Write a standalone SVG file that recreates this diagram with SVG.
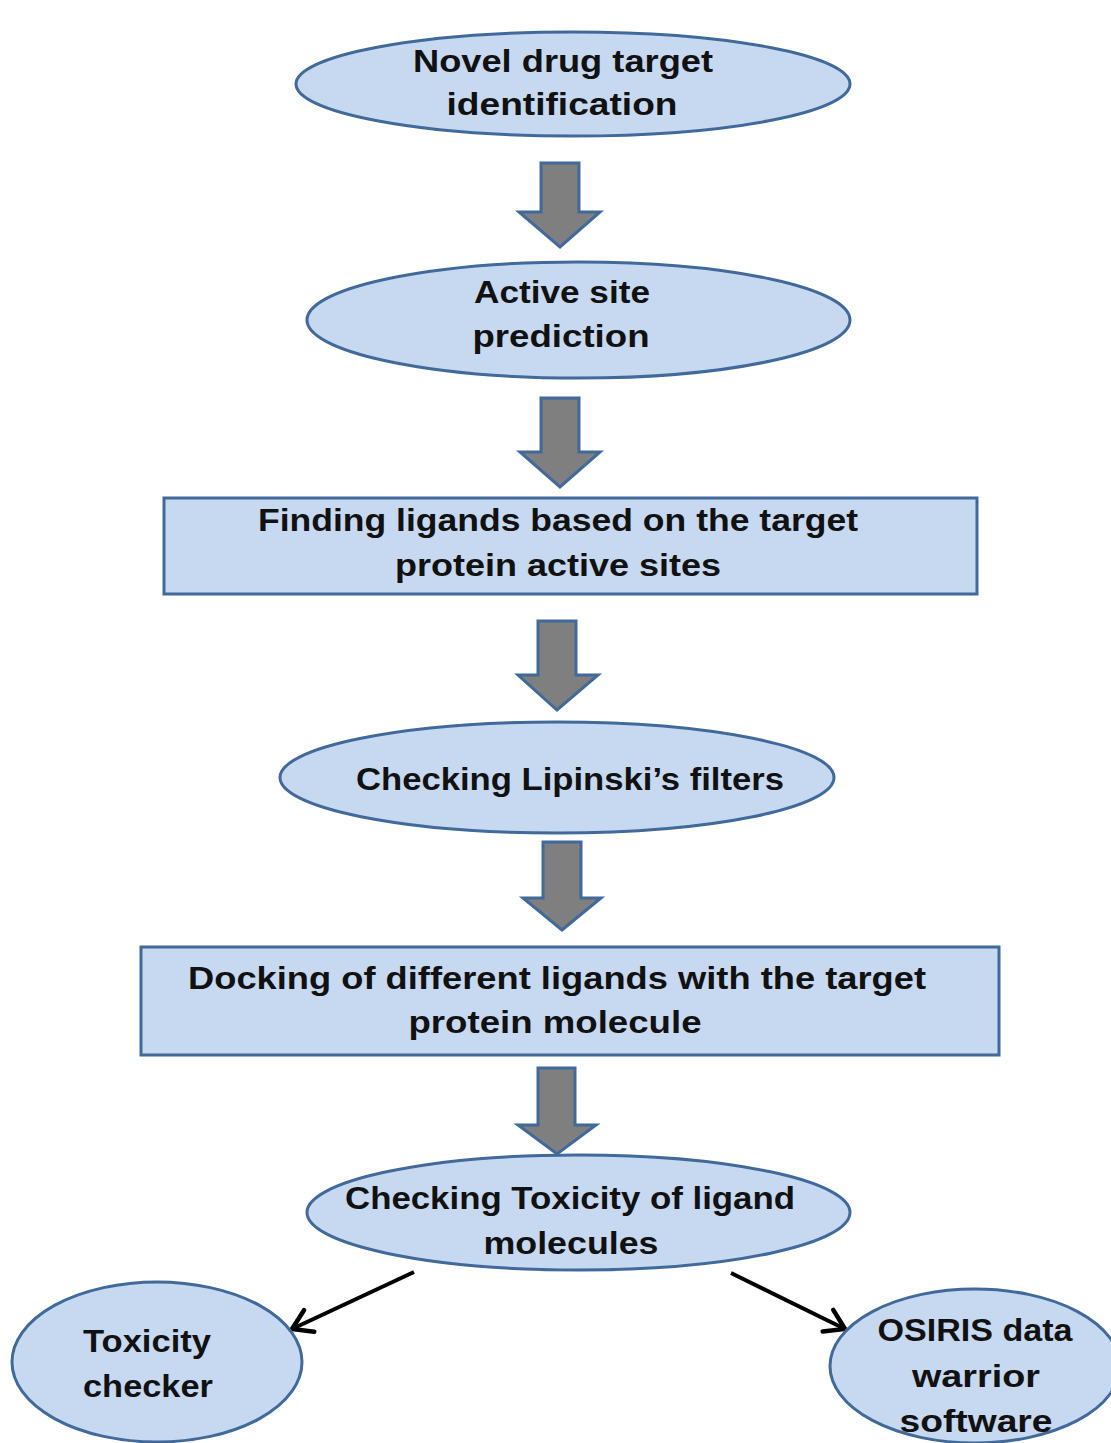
<svg xmlns="http://www.w3.org/2000/svg" width="1111" height="1443" viewBox="0 0 1111 1443">
<style>
.n{fill:#c6d9f1;stroke:#41699a;stroke-width:3}
.blk{fill:#7f7f7f;stroke:#41699a;stroke-width:3;stroke-linejoin:miter}
.t{font-family:"Liberation Sans",Arial,sans-serif;font-weight:bold;font-size:32px;fill:#111;text-anchor:middle}
.ln{stroke:#000;stroke-width:4;fill:none}
</style>
<defs>
<marker id="ah" viewBox="0 0 28 28" refX="25" refY="14" markerWidth="28" markerHeight="28" orient="auto" markerUnits="userSpaceOnUse" style="overflow:visible">
<path d="M6,2 L25,14 L6,26" fill="none" stroke="#000" stroke-width="4.5" stroke-linecap="round" stroke-linejoin="miter"/>
</marker>
</defs>
<rect width="1111" height="1443" fill="#fff"/>
<g id="connectors">
<polygon class="blk" points="541,163 579,163 579,212 600,212 560,247 519,212 541,212"/>
<polygon class="blk" points="541,398 579,398 579,452 600,452 560,487 520,452 541,452"/>
<polygon class="blk" points="538,621 576,621 576,675 598,675 557,710 518,675 538,675"/>
<polygon class="blk" points="543,842 581,842 581,898 601,898 562,930 523,898 543,898"/>
<polygon class="blk" points="538,1068 575,1068 575,1125 596,1125 557,1154 518,1125 538,1125"/>
<line class="ln" x1="414" y1="1272" x2="292" y2="1329" marker-end="url(#ah)"/>
<line class="ln" x1="731" y1="1273" x2="845" y2="1329" marker-end="url(#ah)"/>
</g>
<g id="node1">
<ellipse class="n" cx="573" cy="84" rx="277" ry="52"/>
<text class="t" x="563" y="72" textLength="300" lengthAdjust="spacingAndGlyphs">Novel drug target</text>
<text class="t" x="562" y="115" textLength="231" lengthAdjust="spacingAndGlyphs">identification</text>
</g>
<g id="node2">
<ellipse class="n" cx="578.5" cy="320" rx="271.5" ry="58"/>
<text class="t" x="562" y="303" textLength="176" lengthAdjust="spacingAndGlyphs">Active site</text>
<text class="t" x="561" y="347" textLength="177" lengthAdjust="spacingAndGlyphs">prediction</text>
</g>
<g id="node3">
<rect class="n" x="164" y="498" width="813" height="96"/>
<text class="t" x="558" y="531" textLength="600" lengthAdjust="spacingAndGlyphs">Finding ligands based on the target</text>
<text class="t" x="558" y="576" textLength="326" lengthAdjust="spacingAndGlyphs">protein active sites</text>
</g>
<g id="node4">
<ellipse class="n" cx="557" cy="777.5" rx="277" ry="55.5"/>
<text class="t" x="570" y="790" textLength="428" lengthAdjust="spacingAndGlyphs">Checking Lipinski’s filters</text>
</g>
<g id="node5">
<rect class="n" x="141" y="947" width="858" height="108"/>
<text class="t" x="557" y="989" textLength="738" lengthAdjust="spacingAndGlyphs">Docking of different ligands with the target</text>
<text class="t" x="555" y="1033" textLength="293" lengthAdjust="spacingAndGlyphs">protein molecule</text>
</g>
<g id="node6">
<ellipse class="n" cx="578.5" cy="1212.5" rx="271.5" ry="57.5"/>
<text class="t" x="570" y="1209" textLength="450" lengthAdjust="spacingAndGlyphs">Checking Toxicity of ligand</text>
<text class="t" x="571" y="1254" textLength="175" lengthAdjust="spacingAndGlyphs">molecules</text>
</g>
<g id="node7">
<ellipse class="n" cx="157" cy="1362" rx="145" ry="80"/>
<text class="t" x="147" y="1352" textLength="128" lengthAdjust="spacingAndGlyphs">Toxicity</text>
<text class="t" x="148" y="1397" textLength="130" lengthAdjust="spacingAndGlyphs">checker</text>
</g>
<g id="node8">
<ellipse class="n" cx="975" cy="1366" rx="145" ry="77"/>
<text class="t" x="975" y="1341" textLength="195" lengthAdjust="spacingAndGlyphs">OSIRIS data</text>
<text class="t" x="976" y="1387" textLength="128" lengthAdjust="spacingAndGlyphs">warrior</text>
<text class="t" x="976" y="1432" textLength="153" lengthAdjust="spacingAndGlyphs">software</text>
</g>
</svg>
